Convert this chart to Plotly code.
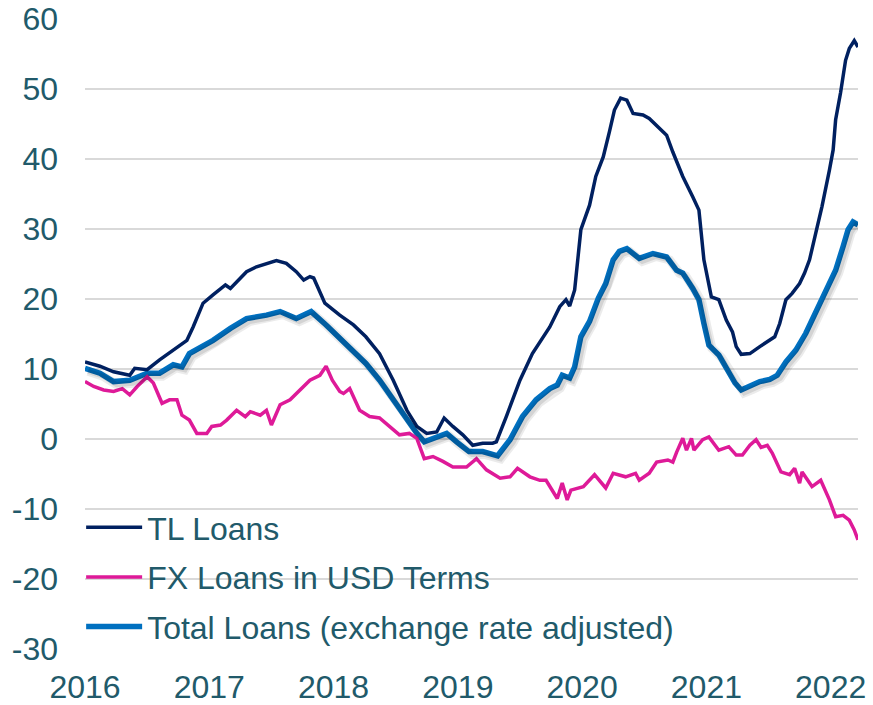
import plotly.graph_objects as go

# ---------------- data ----------------
tl_x = [2016.00, 2016.12, 2016.23, 2016.36, 2016.40, 2016.50, 2016.60, 2016.71, 2016.82, 2016.87,
        2016.95, 2017.03, 2017.13, 2017.17, 2017.25, 2017.30, 2017.38, 2017.46, 2017.54, 2017.62,
        2017.70, 2017.76, 2017.81, 2017.84, 2017.93, 2018.05, 2018.16, 2018.26, 2018.37, 2018.48,
        2018.59, 2018.67, 2018.75, 2018.83, 2018.89, 2018.96, 2019.04, 2019.12, 2019.20, 2019.28,
        2019.31, 2019.39, 2019.50, 2019.60, 2019.66, 2019.74, 2019.82, 2019.87, 2019.90, 2019.94,
        2019.99, 2020.06, 2020.11, 2020.17, 2020.22, 2020.26, 2020.31, 2020.36, 2020.41, 2020.49,
        2020.54, 2020.62, 2020.68, 2020.73, 2020.81, 2020.89, 2020.94, 2020.98, 2021.04, 2021.10,
        2021.16, 2021.21, 2021.24, 2021.28, 2021.35, 2021.43, 2021.51, 2021.55, 2021.59, 2021.64,
        2021.69, 2021.75, 2021.79, 2021.83, 2021.88, 2021.93, 2021.99, 2022.02, 2022.04, 2022.08,
        2022.12, 2022.15, 2022.19, 2022.22]
tl_y = [11.0, 10.4, 9.6, 9.1, 10.1, 9.9, 11.3, 12.7, 14.1, 16.0,
        19.4, 20.6, 22.0, 21.5, 23.0, 23.9, 24.6, 25.1, 25.5, 25.1,
        23.9, 22.7, 23.2, 23.0, 19.4, 17.7, 16.3, 14.6, 12.2, 8.4,
        4.1, 1.8, 0.8, 1.0, 3.0, 1.8, 0.6, -0.9, -0.6, -0.6,
        -0.4, 3.2, 8.4, 12.2, 13.9, 16.0, 18.9, 19.9, 19.0, 21.3,
        29.9, 33.4, 37.5, 40.3, 43.9, 47.0, 48.7, 48.4, 46.5, 46.3,
        45.8, 44.4, 43.4, 41.0, 37.5, 34.6, 32.7, 25.6, 20.3, 19.9,
        17.0, 15.3, 13.2, 12.1, 12.2, 13.2, 14.1, 14.6, 16.5, 19.9,
        20.8, 22.2, 23.7, 25.6, 29.4, 33.2, 38.4, 41.3, 45.6, 49.5,
        54.1, 55.8, 56.9, 56.0]

fx_x = [2016.00, 2016.07, 2016.15, 2016.23, 2016.30, 2016.36, 2016.42, 2016.50, 2016.55, 2016.62,
        2016.68, 2016.74, 2016.78, 2016.84, 2016.90, 2016.98, 2017.02, 2017.09, 2017.14, 2017.22,
        2017.29, 2017.33, 2017.41, 2017.46, 2017.50, 2017.57, 2017.65, 2017.73, 2017.81, 2017.89,
        2017.94, 2017.99, 2018.05, 2018.08, 2018.13, 2018.21, 2018.29, 2018.37, 2018.45, 2018.53,
        2018.61, 2018.67, 2018.73, 2018.80, 2018.88, 2018.96, 2019.07, 2019.15, 2019.23, 2019.34,
        2019.42, 2019.48, 2019.58, 2019.66, 2019.71, 2019.80, 2019.84, 2019.88, 2019.91, 2020.01,
        2020.10, 2020.19, 2020.25, 2020.35, 2020.43, 2020.46, 2020.54, 2020.60, 2020.69, 2020.73,
        2020.76, 2020.81, 2020.84, 2020.88, 2020.90, 2020.97, 2021.02, 2021.10, 2021.18, 2021.24,
        2021.29, 2021.35, 2021.40, 2021.44, 2021.49, 2021.53, 2021.60, 2021.67, 2021.71, 2021.75,
        2021.77, 2021.85, 2021.92, 2021.99, 2022.04, 2022.10, 2022.15, 2022.19, 2022.22]
fx_y = [8.2, 7.5, 7.0, 6.8, 7.2, 6.3, 7.5, 8.9, 8.0, 5.1,
        5.6, 5.6, 3.4, 2.7, 0.8, 0.8, 1.8, 2.0, 2.7, 4.1,
        3.2, 3.9, 3.4, 4.1, 2.0, 4.9, 5.6, 7.0, 8.4, 9.1,
        10.4, 8.4, 6.8, 6.5, 7.2, 4.1, 3.2, 3.0, 1.8, 0.6,
        0.8, 0.1, -2.8, -2.5, -3.2, -4.0, -4.0, -2.8, -4.4, -5.6,
        -5.4, -4.2, -5.4, -5.9, -5.9, -8.5, -6.3, -8.7, -7.3, -6.8,
        -5.1, -7.0, -4.9, -5.4, -4.9, -5.9, -4.9, -3.3, -3.0, -3.3,
        -1.9, 0.1, -1.6, 0.1, -1.6, -0.1, 0.3, -1.6, -1.1, -2.3,
        -2.3, -0.9, -0.1, -1.2, -0.9, -2.0, -4.7, -5.1, -4.2, -6.3,
        -4.7, -6.8, -5.9, -8.7, -11.1, -10.9, -11.6, -13.0, -14.4]

tot_x = [2016.00, 2016.12, 2016.23, 2016.36, 2016.50, 2016.60, 2016.71, 2016.78, 2016.84, 2017.03,
         2017.17, 2017.30, 2017.46, 2017.57, 2017.70, 2017.82, 2017.94, 2018.05, 2018.16, 2018.26,
         2018.37, 2018.48, 2018.59, 2018.67, 2018.73, 2018.80, 2018.91, 2018.99, 2019.09, 2019.20,
         2019.32, 2019.42, 2019.52, 2019.63, 2019.74, 2019.80, 2019.84, 2019.90, 2019.94, 2019.99,
         2020.06, 2020.13, 2020.19, 2020.25, 2020.30, 2020.36, 2020.41, 2020.46, 2020.57, 2020.68,
         2020.76, 2020.81, 2020.89, 2020.94, 2020.98, 2021.02, 2021.10, 2021.16, 2021.23, 2021.28,
         2021.35, 2021.43, 2021.51, 2021.57, 2021.64, 2021.72, 2021.80, 2021.88, 2021.96, 2022.04,
         2022.10, 2022.14, 2022.18, 2022.22]
tot_y = [10.1, 9.4, 8.2, 8.4, 9.4, 9.4, 10.6, 10.3, 12.2, 14.1,
         15.8, 17.2, 17.7, 18.2, 17.2, 18.2, 16.3, 14.4, 12.7, 10.8,
         8.4, 5.6, 2.7, 0.8, -0.4, 0.1, 0.8, -0.4, -1.8, -1.8,
         -2.4, -0.1, 3.2, 5.6, 7.2, 7.7, 9.1, 8.7, 10.3, 14.6,
         16.8, 20.1, 22.2, 25.6, 26.8, 27.2, 26.5, 25.8, 26.5, 26.0,
         24.1, 23.7, 21.5, 19.9, 16.5, 13.4, 12.0, 10.3, 8.0, 7.0,
         7.5, 8.2, 8.5, 9.1, 11.0, 12.7, 15.1, 18.0, 20.8, 24.1,
         27.5, 29.9, 31.0, 30.6]

series_names = ["TL Loans", "FX Loans in USD Terms", "Total Loans (exchange rate adjusted)"]
year_ticks = [2016, 2017, 2018, 2019, 2020, 2021, 2022]
y_ticks = [-30, -20, -10, 0, 10, 20, 30, 40, 50, 60]
y_tick_labels = ["-30", "-20", "-10", "0", "10", "20", "30", "40", "50", "60"]

# ---------------- styling ----------------
TEXT = "#215A6A"
NAVY = "#002060"
PINK = "#DE1A98"
BLUE = "#0070C0"
FONT = "Liberation Sans, Arial, sans-serif"
FS = 32
X_RANGE = [2016, 2022.22]
Y_RANGE = [-30, 60]

fig = go.Figure()

# drop shadow of the total-loans line (same data on slightly shifted overlay axes)
fig.add_trace(go.Scatter(x=tot_x, y=tot_y, mode="lines", xaxis="x2", yaxis="y2",
                         line=dict(color="rgba(0,0,0,0.08)", width=9), showlegend=False,
                         hoverinfo="skip"))
fig.add_trace(go.Scatter(x=tot_x, y=tot_y, mode="lines", xaxis="x2", yaxis="y2",
                         line=dict(color="rgba(0,0,0,0.10)", width=5), showlegend=False,
                         hoverinfo="skip"))

fig.add_trace(go.Scatter(x=tot_x, y=tot_y, mode="lines", name=series_names[2],
                         line=dict(color=BLUE, width=5.5), legendrank=3, legendgroup="c"))
fig.add_trace(go.Scatter(x=tl_x, y=tl_y, mode="lines", name=series_names[0],
                         line=dict(color=NAVY, width=3.5), legendrank=1, legendgroup="a"))
fig.add_trace(go.Scatter(x=fx_x, y=fx_y, mode="lines", name=series_names[1],
                         line=dict(color=PINK, width=3.5), legendrank=2, legendgroup="b"))

fig.update_layout(
    width=873, height=705,
    margin=dict(l=85, r=15, t=19, b=56, autoexpand=False),
    paper_bgcolor="white", plot_bgcolor="white",
    font=dict(family=FONT, size=FS, color=TEXT),
    showlegend=True,
    legend=dict(x=-0.005, y=0.2365, xanchor="left", yanchor="top",
                bgcolor="rgba(0,0,0,0)", font=dict(size=FS, color=TEXT),
                itemwidth=56, tracegroupgap=5, traceorder="grouped"),
    xaxis=dict(range=X_RANGE, tickvals=year_ticks, ticktext=[str(v) for v in year_ticks],
               showgrid=False, zeroline=False, showline=False, ticks="", automargin=False,
               ticklabelstandoff=16, tickfont=dict(size=FS, color=TEXT)),
    yaxis=dict(range=Y_RANGE, tickvals=y_ticks, ticktext=y_tick_labels, showgrid=True,
               gridcolor="#D9D9D9", gridwidth=1.5, zeroline=False, showline=False, ticks="",
               automargin=False, ticklabelstandoff=26, tickfont=dict(size=FS, color=TEXT)),
    xaxis2=dict(range=[X_RANGE[0] - 3 / 124.4, X_RANGE[1] - 3 / 124.4], overlaying="x",
                visible=False),
    yaxis2=dict(range=[Y_RANGE[0] + 3 / 7.0, Y_RANGE[1] + 3 / 7.0], overlaying="y",
                visible=False),
)

fig.write_html("out.html", config={"displayModeBar": False},
               post_script="document.body.style.margin='0';document.body.style.overflow='hidden';")
